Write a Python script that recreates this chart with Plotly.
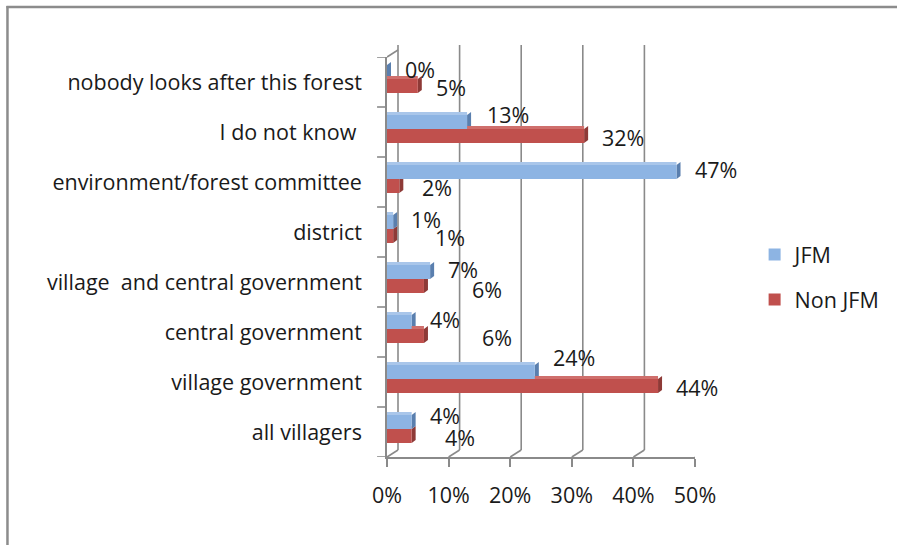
import plotly.graph_objects as go

# Who looks after the forest? Share of respondents, JFM vs non-JFM villages
categories = [
    "all villagers",
    "village government",
    "central government",
    "village  and central government",
    "district",
    "environment/forest committee",
    "I do not know ",
    "nobody looks after this forest",
]
jfm = [4, 24, 4, 7, 1, 47, 13, 0]
non_jfm = [4, 44, 6, 6, 1, 2, 32, 5]
x_ticks = [0, 10, 20, 30, 40, 50]
x_tick_text = ["0%", "10%", "20%", "30%", "40%", "50%"]

# Plot-area placement in page pixels
W, H = 897, 545
L, R, T, B = 387, 697, 57, 457
BAND = (B - T) / len(categories)          # pixels per category
DX, DY = 4, 3                             # bar depth (3-D look)
WALL_DX, WALL_DY = 11, 7                  # back wall offset

FONT = "Open Sans"
TXT = "#1a1a1a"
GRID = "#8a8a8a"
BLUE, BLUE_TOP, BLUE_SIDE = "#8db4e3", "#a9c6ea", "#5a7fae"
RED, RED_TOP, RED_SIDE = "#c0504d", "#cf6f6c", "#8e3a37"

# Extra pixel nudges for data labels that would otherwise collide
blue_label_nudge = {"village government": (0, 12), "I do not know ": (2, 5),
                    "all villagers": (0, 4)}
red_label_nudge = {"district": (24, 0), "village  and central government": (30, -2),
                   "central government": (40, 0), "all villagers": (15, 0),
                   "environment/forest committee": (5, 0)}


def px_x(p):
    return (p - L) / (R - L)


def px_y(p):
    return (B - p) / (B - T)


pos = list(range(len(categories)))
blue_off, red_off, bar_w, top_w = 0.06, -0.22, 0.28, DY / BAND

fig = go.Figure()
# Top faces first so the front faces sit over them
fig.add_trace(go.Bar(y=pos, x=non_jfm, orientation="h", offset=red_off + bar_w,
                     width=top_w, marker=dict(color=RED_TOP, line_width=0),
                     showlegend=False, hoverinfo="skip"))
fig.add_trace(go.Bar(y=pos, x=non_jfm, orientation="h", offset=red_off, width=bar_w,
                     name="Non JFM", marker=dict(color=RED, line_width=0),
                     legendrank=2, legendgroup="b"))
fig.add_trace(go.Bar(y=pos, x=jfm, orientation="h", offset=blue_off + bar_w,
                     width=top_w, marker=dict(color=BLUE_TOP, line_width=0),
                     showlegend=False, hoverinfo="skip"))
fig.add_trace(go.Bar(y=pos, x=jfm, orientation="h", offset=blue_off, width=bar_w,
                     name="JFM", marker=dict(color=BLUE, line_width=0),
                     legendrank=1, legendgroup="a"))

shapes = []
# Back-wall gridlines and floor diagonals
for v in x_ticks:
    shapes.append(dict(type="line", xref="x", yref="paper", xsizemode="pixel", xanchor=v,
                       x0=WALL_DX, x1=WALL_DX, y0=WALL_DY / (B - T), y1=px_y(45),
                       line=dict(color=GRID, width=1.6), layer="below"))
    shapes.append(dict(type="line", xref="x", yref="paper", xsizemode="pixel", xanchor=v,
                       x0=0, x1=WALL_DX, y0=0, y1=WALL_DY / (B - T),
                       line=dict(color=GRID, width=1.6), layer="below"))
# Left wall top edge
shapes.append(dict(type="line", xref="x", yref="paper", xsizemode="pixel", xanchor=0,
                   x0=0, x1=WALL_DX, y0=1, y1=1 + WALL_DY / (B - T),
                   line=dict(color=GRID, width=1.6), layer="below"))

# Side faces at the bar ends
for i in pos:
    for val, off, col in ((non_jfm[i], red_off, RED_SIDE), (jfm[i], blue_off, BLUE_SIDE)):
        y0 = off * BAND
        y1 = (off + bar_w) * BAND
        shapes.append(dict(type="path", xref="x", yref="y", xsizemode="pixel",
                           ysizemode="pixel", xanchor=val, yanchor=i,
                           path=f"M0,{y0} L0,{y1} L{DX},{y1 + DY} L{DX},{y0 + DY} Z",
                           fillcolor=col, line_width=0, layer="between"))

# Outer chart border (left and top edges)
shapes.append(dict(type="line", xref="paper", yref="paper", x0=px_x(5), x1=px_x(5),
                   y0=px_y(6), y1=px_y(560), line=dict(color="#8c8c8c", width=2.5)))
shapes.append(dict(type="line", xref="paper", yref="paper", x0=px_x(4), x1=px_x(910),
                   y0=px_y(7), y1=px_y(7), line=dict(color="#8c8c8c", width=2.5)))

annotations = []
for i in pos:
    cat = categories[i]
    bdx, bdy = blue_label_nudge.get(cat, (0, 0))
    rdx, rdy = red_label_nudge.get(cat, (0, 0))
    annotations.append(dict(x=jfm[i], y=i, xref="x", yref="y", text=f"{jfm[i]}%",
                            showarrow=False, xanchor="left", xshift=16 + bdx,
                            yshift=13 + bdy,
                            font=dict(family=FONT, size=21.5, color=TXT)))
    annotations.append(dict(x=non_jfm[i], y=i, xref="x", yref="y", text=f"{non_jfm[i]}%",
                            showarrow=False, xanchor="left", xshift=16 + rdx,
                            yshift=-5 + rdy,
                            font=dict(family=FONT, size=21.5, color=TXT)))

fig.update_layout(
    width=W, height=H,
    margin=dict(l=L, r=W - R, t=T, b=H - B),
    paper_bgcolor="white", plot_bgcolor="white",
    barmode="overlay",
    font=dict(family=FONT, size=21.5, color=TXT),
    shapes=shapes, annotations=annotations,
    legend=dict(x=px_x(757), y=px_y(234), xanchor="left", yanchor="top",
                font=dict(family=FONT, size=21.5, color=TXT),
                tracegroupgap=14, itemwidth=30, bgcolor="rgba(0,0,0,0)"),
    xaxis=dict(range=[0, 50], tickvals=x_ticks, ticktext=x_tick_text, showgrid=False,
               zeroline=False, showline=True, linecolor=GRID, linewidth=1.6,
               ticks="outside", ticklen=8, tickcolor=GRID, tickwidth=1.6,
               ticklabelstandoff=10, fixedrange=True),
    yaxis=dict(range=[-0.5, len(categories) - 0.5], tickvals=pos, ticktext=categories,
               showgrid=False, zeroline=False, showline=True, linecolor=GRID,
               linewidth=1.6, ticks="", ticklabelstandoff=19, fixedrange=True),
)

# Category boundary ticks on the left axis
for k in range(len(categories) + 1):
    fig.add_shape(type="line", xref="paper", yref="y", x0=px_x(377), x1=0,
                  y0=k - 0.5, y1=k - 0.5, line=dict(color=GRID, width=1.6))

fig.write_html("out.html")
